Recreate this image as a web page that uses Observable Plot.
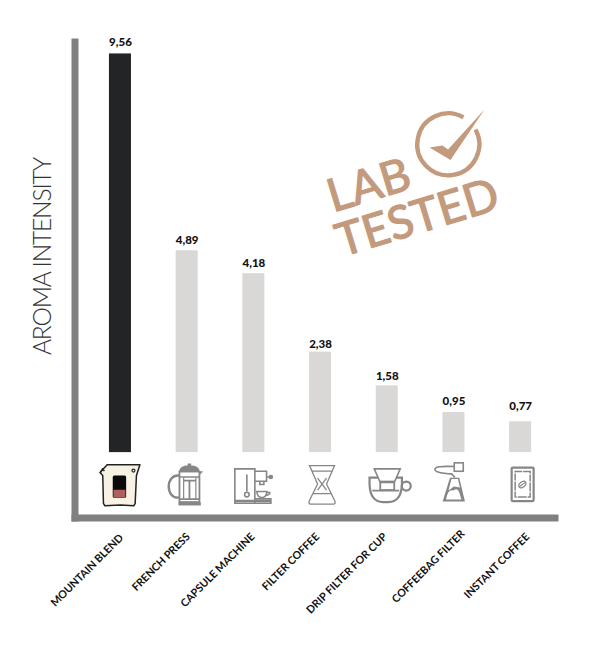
<!DOCTYPE html>
<html><head><meta charset="utf-8">
<style>html,body{margin:0;background:#fff}svg{display:block}</style>
<script src="https://cdn.jsdelivr.net/npm/d3@7"></script>
<script src="https://cdn.jsdelivr.net/npm/@observablehq/plot@0.6"></script>
</head><body><script>
const categories = ["MOUNTAIN BLEND","FRENCH PRESS","CAPSULE MACHINE","FILTER COFFEE","DRIP FILTER FOR CUP","COFFEEBAG FILTER","INSTANT COFFEE"];
const valueLabels = ["9,56","4,89","4,18","2,38","1,58","0,95","0,77"];
const barHeights = [9.56,4.84,4.29,2.41,1.60,0.96,0.74];
const labelLevels = [9.83,5.08,4.55,2.59,1.84,1.24,1.10];
const highlighted = "MOUNTAIN BLEND";
const yLabel = "AROMA INTENSITY";
const stampLines = ["LAB","TESTED"];

const G = "#868686";
const glyphs = {
 "MOUNTAIN BLEND": `<path d="M16.7 4.3H49.5L46 15 44.7 43 43.3 45.2 30 44.5 14.5 45.2 13 43 12.3 15 9.5 12Z" fill="#f8f2e4" stroke="#222" stroke-width="1.5" stroke-linejoin="round"/><rect x="22.3" y="15" width="13.4" height="22.3" rx="1.5" fill="#0a0a0a"/><path d="M23 29.3H35V36a1 1 0 0 1-1 1H24a1 1 0 0 1-1-1Z" fill="#b05f5c"/><circle cx="43" cy="10" r="1.5" fill="none" stroke="#222" stroke-width="1.2"/><path d="M10 12l2-3.5 2 2" fill="none" stroke="#222" stroke-width="1.5"/>`,
 "FRENCH PRESS": `<g fill="none" stroke="${G}" stroke-width="1.8"><path d="M22.3 15C8 13 8 39 22.3 37" stroke-width="2.4"/><rect x="22.3" y="11" width="20" height="30.5"/><path d="M22.3 16.5H42.3" stroke-width="1.4"/><path d="M26.5 20H38.7M32.3 20V39M22.3 38.5H42.3"/><path d="M26.5 17V38.5M38.7 17V38.5" stroke-width="1.2"/></g><path d="M22 10.5Q23 5 30.5 5V3H34V5Q41.5 5 42.5 10.5L46 11 43 14V10.5Z" fill="${G}"/><rect x="21.3" y="41.7" width="22.4" height="3.2" fill="${G}"/>`,
 "CAPSULE MACHINE": `<g fill="none" stroke="${G}" stroke-width="1.6"><path d="M11 8.3H31V42.7H11ZM31 10.7H42.7V20.7H31ZM31 38.3H47V42.7H31ZM36 20.7H40V24H36ZM42.7 16.5H46"/><path d="M23 14V31"/><circle cx="23" cy="34" r="2.3"/><circle cx="47" cy="16.5" r="1.5" fill="${G}"/><path d="M33 31H43Q42.5 37 38 37 33.5 37 33 31ZM43 32H46Q46 34.5 42 35"/><path d="M11 40.5H47" stroke-width="2.4"/></g>`,
 "FILTER COFFEE": `<path d="M19 5H44L36 23.5 44.5 41Q45 43.5 43 43.5H20Q18 43.5 18.5 41L27 23.5ZM21 10.5H42M27 17.5 36 29.5M36 17.5 27 29.5M23 33H40" fill="none" stroke="${G}" stroke-width="1.3"/>`,
 "DRIP FILTER FOR CUP": `<g fill="none" stroke="${G}" stroke-width="2.2"><path d="M12.3 17H44.7V24Q44 41.5 31 41.5H26Q13 41.5 12.3 24Z"/><circle cx="49" cy="25.5" r="4.5"/><path d="M17 8.3H43L37 22H23Z" stroke-width="1.6" fill="#fff"/><rect x="23" y="21" width="14" height="8.5" stroke-width="1.8"/><path d="M15 30H42" stroke-width="1.8"/></g>`,
 "COFFEEBAG FILTER": `<rect x="30.3" y="2.3" width="9" height="8.4" fill="none" stroke="${G}" stroke-width="1.6"/><path d="M30.3 6Q10 5 11 9 11.5 12.5 27.7 13.3L31 17" fill="none" stroke="${G}" stroke-width="1.6"/><path d="M26 17.3H35.3L41 41H18.7Z" fill="${G}"/><path d="M22 39Q24 28 29.5 30 33 27 35 31L37.5 39Z" fill="#fff"/><path d="M27.5 18.5H34L36 27 30 26 24.5 30Z" fill="#fff"/>`,
 "INSTANT COFFEE": `<rect x="21" y="7" width="22" height="33.5" rx="1" fill="none" stroke="${G}" stroke-width="2.2"/><rect x="24.5" y="11" width="15" height="25.5" fill="none" stroke="${G}" stroke-width="1.5" stroke-dasharray="7 1 9 1"/><ellipse cx="31.7" cy="24" rx="4" ry="2.6" transform="rotate(-40 31.7 24)" fill="none" stroke="${G}" stroke-width="1.2"/><path d="M28.8 26.2 34.6 21.8" stroke="${G}" stroke-width="1"/>`
};
const icon = (inner, w, h) => "data:image/svg+xml;utf8," + encodeURIComponent(`<svg xmlns="http://www.w3.org/2000/svg" width="${w}" height="${h}" viewBox="0 0 ${w} ${h}">${inner}</svg>`);
const Tan = "#c39a7c";
const stampMark = icon(`<path d="M57 14.8A31 31 0 1 0 69 27" fill="none" stroke="${Tan}" stroke-width="4.3"/><path d="M23 45 36 43 41.5 47 78 7 44 57.5Z" fill="${Tan}"/>`, 84, 84);

const rows = categories.map((c,i)=>({c, bar:barHeights[i], level:labelLevels[i], label:valueLabels[i], src:icon(glyphs[c],60,50)}));
const font = "Lato, 'Noto Sans', sans-serif";
const iconLevel = -0.79;
const tickNudge = {"MOUNTAIN BLEND":[1,1],"FRENCH PRESS":[1,0],"CAPSULE MACHINE":[-1,0],"FILTER COFFEE":[-3,0],"DRIP FILTER FOR CUP":[-2,0],"COFFEEBAG FILTER":[9,-3],"INSTANT COFFEE":[7,0]};
const chart = Plot.plot({
  width:611, height:646, marginLeft:74.5, marginRight:56.5, marginTop:41.5, marginBottom:128.5,
  style:{fontFamily:font, background:"#fff", color:"#111"},
  x:{type:"band", domain:categories, range:[86.6,553.5], paddingInner:0.67, paddingOuter:0.335, round:false, label:null},
  y:{domain:[-1.568,9.846], axis:null},
  marks:[
    Plot.barY(rows,{x:"c", y1:0, y2:"bar", fill:d=>d.c===highlighted?"#232425":"#d9d8d6"}),
    Plot.frame({anchor:"left", stroke:"#808080", strokeWidth:7}),
    Plot.frame({anchor:"bottom", stroke:"#808080", strokeWidth:7}),
    ...categories.map(c=>Plot.axisX([c],{anchor:"bottom", tickSize:0, tickPadding:17, tickRotate:-45, fontSize:10.7, fontWeight:700, stroke:"none", fill:"#111", label:null, dx:tickNudge[c][0], dy:tickNudge[c][1]})),
    Plot.text(rows,{x:"c", y:"level", text:"label", fontSize:11.5, fontWeight:900, fill:"#111"}),
    Plot.image(rows,{x:"c", y:()=>iconLevel, src:"src", width:60, height:50}),
    Plot.text([yLabel],{frameAnchor:"left", textAnchor:"middle", lineAnchor:"middle", rotate:-90, dx:-32, dy:-23.5, fontSize:24.5, fontWeight:300, fill:"#333"}),
    Plot.text([stampLines[0]],{frameAnchor:"top-left", textAnchor:"middle", lineAnchor:"middle", rotate:-17, dx:294, dy:144, fontSize:46, fontWeight:400, fill:Tan, stroke:Tan, strokeWidth:1.2}),
    Plot.text([stampLines[1]],{frameAnchor:"top-left", textAnchor:"middle", lineAnchor:"middle", rotate:-17, dx:342.5, dy:176.5, fontSize:46, fontWeight:400, fill:Tan, stroke:Tan, strokeWidth:1.2}),
    Plot.image(["stamp"],{frameAnchor:"top-left", src:()=>stampMark, width:84, height:84, dx:373.5, dy:102.5})
  ]
});
chart.querySelectorAll("text").forEach(t=>{ if(t.textContent===yLabel) t.style.letterSpacing="-1.15px"; });
document.body.append(chart);
</script></body></html>
